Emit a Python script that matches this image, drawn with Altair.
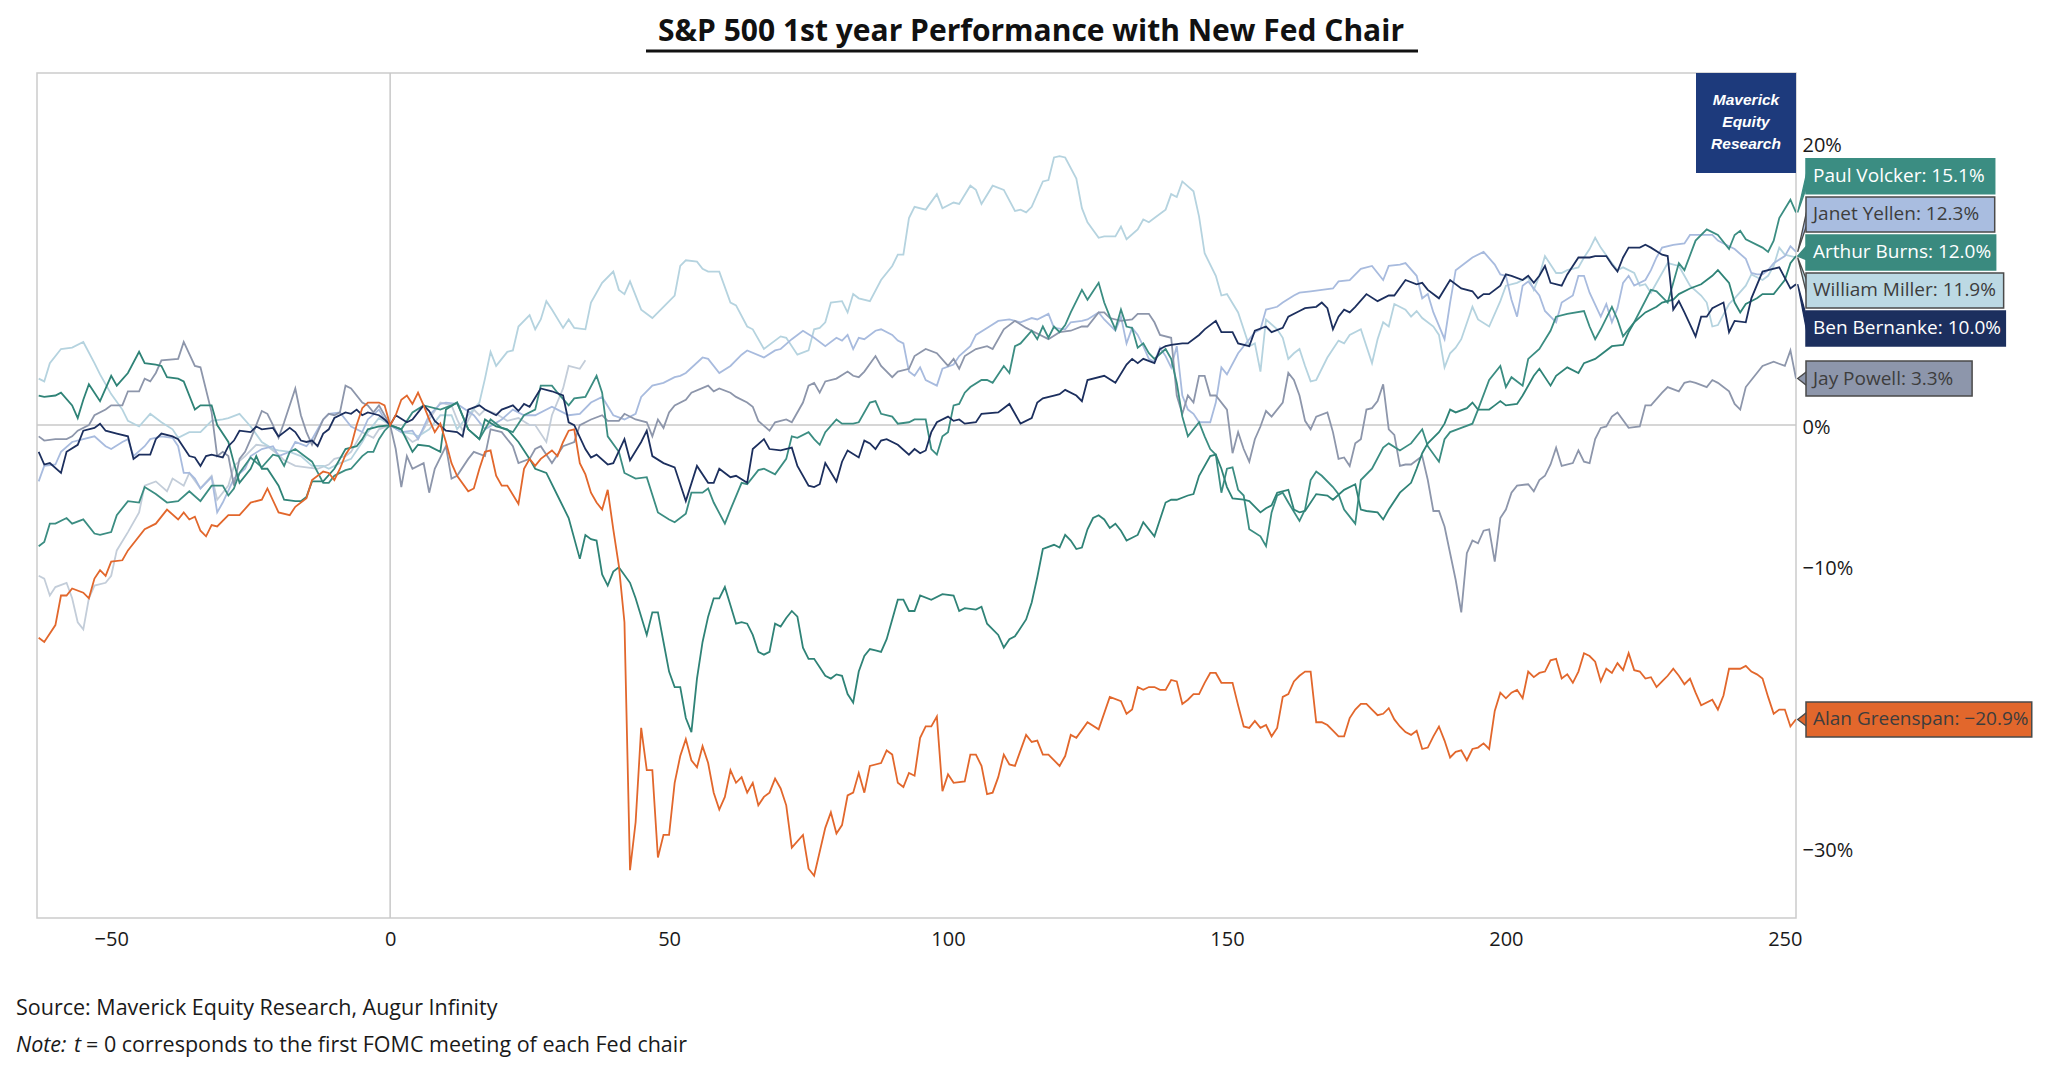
import altair as alt
import pandas as pd

# ---- values: (trading day vs first FOMC, % change) ----
volcker = [(-63, -8.6), (-62, -8.3), (-61, -7.0), (-60, -7.0), (-58, -6.6), (-57, -7.0), (-55, -6.7), (-53, -7.7),
           (-52, -7.8), (-50, -7.6), (-49, -6.4), (-47, -5.4), (-45, -5.5), (-44, -4.4), (-42, -4.9), (-40, -5.5),
           (-38, -5.4), (-36, -4.7), (-34, -5.4), (-32, -4.3), (-30, -4.3), (-29, -5.0), (-28, -4.5), (-27, -3.4),
           (-25, -2.3), (-23, -3.0), (-21, -2.1), (-20, -2.2), (-19, -2.9), (-18, -1.9), (-17, -1.7), (-15, -2.3),
           (-14, -2.6), (-12, -4.1), (-11, -4.1), (-10, -3.6), (-8, -3.2), (-7, -3.1), (-5, -2.2), (-4, -1.9),
           (-3, -1.9), (-2, -1.0), (-1, -0.4), (0, 0.0), (2, -0.3), (4, 0.9), (6, 1.4), (9, 1.1), (11, 1.4),
           (12, 1.6), (14, -0.3), (16, -1.0), (18, 0.4), (20, -0.2), (22, -0.5), (24, 0.7), (26, 1.1), (27, 2.8),
           (29, 2.8), (30, 2.3), (32, 1.4), (33, 1.9), (35, 2.0), (37, 3.5), (38, 2.3), (39, -0.8), (41, -1.9),
           (42, -3.4), (44, -3.8), (46, -3.7), (48, -6.2), (50, -6.7), (51, -6.9), (53, -6.3), (54, -4.8),
           (56, -4.8), (57, -4.5), (58, -5.5), (60, -7.0), (61, -6.0), (63, -4.1), (64, -4.2), (66, -3.2),
           (67, -3.1), (69, -3.5), (71, -2.4), (72, -0.8), (73, -0.9), (75, -0.5), (76, -1.0), (77, -1.4),
           (78, -0.5), (80, 0.4), (81, 0.1), (83, 0.1), (84, 0.2), (86, 1.6), (87, 1.7), (88, 0.8), (90, 0.6),
           (91, 0.1), (93, 0.2), (94, 0.4), (96, 0.4), (97, -1.7), (98, -2.1), (99, -0.8), (100, -0.5), (101, 1.4),
           (102, 1.5), (103, 2.3), (104, 2.7), (106, 3.2), (107, 3.2), (108, 3.0), (110, 4.2), (111, 3.7),
           (112, 5.6), (113, 5.8), (115, 6.7), (116, 6.1), (117, 7.0), (118, 6.2), (119, 7.0), (120, 6.6),
           (121, 7.1), (122, 8.0), (124, 9.6), (125, 8.9), (127, 10.1), (128, 8.7), (129, 7.7), (130, 6.8),
           (131, 8.2), (132, 7.0), (133, 6.9), (134, 5.5), (135, 5.8), (136, 5.1), (137, 4.7), (139, 5.4),
           (140, 4.7), (141, 3.0), (142, 0.6), (143, -0.8), (145, 0.2), (146, -0.8), (147, -1.7), (148, -2.1),
           (149, -4.8), (150, -3.1), (151, -3.0), (152, -4.6), (153, -5.0), (154, -7.4), (156, -7.9), (157, -8.6),
           (158, -6.2), (159, -5.0), (160, -4.8), (161, -5.5), (163, -6.8), (164, -6.0), (165, -3.9), (166, -3.3),
           (167, -3.6), (169, -4.4), (170, -4.9), (171, -6.0), (172, -6.5), (173, -7.0), (174, -3.9), (176, -3.1),
           (178, -1.6), (179, -1.3), (181, -1.8), (183, -1.3), (185, -0.3), (186, -1.5), (188, -2.6), (189, -1.0),
           (190, -0.5), (192, -0.2), (194, 0.1), (195, 1.1), (197, 3.2), (199, 4.2), (200, 2.7), (201, 3.4),
           (203, 2.8), (204, 4.7), (206, 5.4), (208, 6.7), (209, 7.7), (211, 7.9), (214, 8.1), (215, 7.0),
           (216, 6.1), (217, 6.8), (219, 8.4), (220, 7.5), (221, 6.3), (223, 7.3), (226, 9.6), (227, 9.5),
           (229, 8.7), (231, 11.5), (232, 11.0), (234, 13.1), (236, 13.9), (238, 13.5), (240, 12.5), (241, 13.5),
           (242, 13.8), (243, 13.2), (246, 12.6), (247, 12.3), (248, 13.1), (249, 14.7), (251, 16.0), (252, 15.1)]

yellen = [(-63, -4.0), (-62, -2.9), (-60, -2.8), (-59, -1.9), (-57, -1.2), (-55, -1.0), (-53, -0.8), (-51, -1.5),
          (-50, -1.7), (-48, -1.2), (-47, -1.0), (-46, -2.2), (-44, -1.5), (-43, -1.0), (-41, -0.8), (-39, -0.9),
          (-38, -1.5), (-37, -3.4), (-36, -3.4), (-35, -3.8), (-34, -4.5), (-32, -3.7), (-31, -6.2), (-30, -5.5),
          (-28, -3.8), (-26, -3.1), (-25, -2.2), (-23, -1.7), (-21, -1.5), (-20, -2.2), (-18, -1.9), (-17, -1.2),
          (-15, -1.5), (-14, -1.0), (-12, 0.4), (-11, 0.8), (-9, 0.9), (-7, -0.1), (-5, -0.5), (-4, 0.4),
          (-2, 1.1), (-1, 0.4), (0, 0.0), (2, -0.5), (4, -0.4), (5, -1.0), (7, 0.7), (9, 1.5), (10, 1.6),
          (12, 1.5), (15, 0.7), (17, -0.3), (20, 0.4), (22, 1.1), (24, 0.7), (26, 0.7), (29, 1.3), (30, 1.1),
          (32, 0.7), (34, 0.8), (36, 1.6), (38, 2.0), (40, 0.7), (42, 0.4), (44, 0.8), (45, 2.0), (47, 2.8),
          (49, 3.0), (51, 3.4), (52, 3.5), (53, 3.7), (56, 4.8), (57, 4.7), (59, 3.7), (61, 4.2), (63, 5.0),
          (64, 5.3), (67, 4.8), (69, 5.3), (70, 5.4), (72, 6.1), (74, 6.7), (76, 6.2), (78, 5.6), (80, 6.2),
          (81, 6.0), (82, 6.4), (83, 5.4), (84, 6.2), (85, 6.1), (87, 6.7), (88, 6.8), (90, 6.4), (91, 6.0),
          (92, 5.8), (93, 3.8), (94, 3.5), (95, 4.1), (96, 3.2), (98, 2.8), (99, 4.0), (101, 4.3), (102, 4.9),
          (104, 5.6), (105, 6.4), (107, 6.9), (109, 7.4), (111, 7.5), (113, 7.3), (115, 7.6), (116, 7.5),
          (118, 7.9), (119, 6.9), (121, 6.8), (122, 7.3), (124, 7.4), (125, 7.5), (127, 8.0), (128, 7.5),
          (130, 6.7), (131, 7.7), (132, 5.8), (133, 6.9), (134, 6.4), (135, 5.6), (136, 4.7), (137, 4.5),
          (138, 5.5), (139, 4.9), (140, 4.1), (141, 5.6), (142, 2.1), (143, 1.1), (144, 0.8), (145, 0.2),
          (147, 0.2), (148, 1.6), (149, 4.1), (150, 3.6), (152, 5.1), (153, 5.6), (155, 6.6), (156, 6.8),
          (157, 8.2), (159, 8.4), (160, 8.7), (162, 9.2), (163, 9.4), (165, 9.5), (167, 9.6), (169, 9.7),
          (170, 10.2), (172, 10.3), (174, 11.1), (176, 11.3), (178, 10.3), (179, 11.3), (181, 11.4), (182, 11.5),
          (184, 10.6), (185, 9.0), (186, 9.3), (187, 8.0), (189, 6.1), (190, 8.7), (191, 11.0), (193, 11.6),
          (194, 11.9), (196, 12.3), (198, 11.4), (199, 10.7), (200, 10.6), (201, 8.9), (202, 7.7), (203, 9.9),
          (204, 10.2), (206, 9.2), (207, 8.1), (209, 7.3), (210, 8.7), (212, 9.2), (213, 10.6), (214, 10.6),
          (215, 9.4), (217, 7.7), (218, 8.6), (219, 7.3), (220, 8.3), (221, 10.1), (222, 10.6), (223, 9.9),
          (225, 10.3), (226, 11.0), (227, 11.9), (228, 12.6), (230, 12.8), (232, 12.9), (233, 13.5), (235, 13.5),
          (237, 13.5), (238, 13.1), (240, 12.7), (241, 12.5), (243, 11.8), (244, 10.8), (245, 10.7), (246, 10.7),
          (247, 11.0), (248, 11.5), (250, 12.0), (251, 12.7), (252, 12.3)]

burns = [(-63, 2.1), (-62, 2.0), (-60, 2.1), (-59, 2.3), (-57, 1.4), (-56, 0.5), (-55, 1.8), (-54, 2.9), (-53, 2.3),
         (-52, 1.7), (-50, 3.5), (-49, 2.8), (-47, 3.7), (-45, 5.2), (-44, 4.4), (-42, 4.3), (-41, 4.2), (-40, 3.4),
         (-38, 3.3), (-37, 3.1), (-35, 1.1), (-34, 1.4), (-32, 1.4), (-31, 0.0), (-29, -1.2), (-28, -2.7),
         (-27, -4.1), (-25, -3.1), (-24, -2.2), (-23, -3.1), (-22, -3.1), (-20, -4.3), (-19, -5.3), (-17, -5.4),
         (-16, -5.4), (-15, -5.1), (-14, -4.0), (-12, -4.0), (-10, -3.1), (-8, -1.7), (-6, -1.5), (-5, -1.0),
         (-4, -0.3), (-2, -0.1), (0, 0.0), (2, -0.3), (4, -1.9), (5, -1.4), (7, -1.5), (9, -1.9), (10, 1.1),
         (12, 1.6), (14, -0.3), (16, -1.0), (17, 0.4), (19, -0.1), (21, -0.3), (23, -1.2), (25, -2.4), (26, -3.1),
         (28, -3.4), (30, -5.0), (32, -6.6), (34, -9.5), (35, -7.8), (36, -8.1), (37, -8.2), (38, -10.6),
         (39, -11.4), (40, -10.4), (41, -10.1), (43, -11.2), (44, -12.3), (46, -14.9), (47, -13.3), (48, -13.3),
         (49, -15.4), (50, -17.5), (51, -18.6), (52, -18.6), (53, -20.8), (54, -21.8), (55, -18.0), (56, -15.4),
         (57, -13.6), (58, -12.3), (59, -12.3), (60, -11.5), (61, -12.8), (62, -14.1), (63, -14.0), (64, -14.1),
         (65, -14.9), (66, -16.1), (67, -16.3), (68, -16.1), (69, -14.1), (70, -14.3), (71, -13.7), (72, -13.2),
         (73, -13.6), (74, -15.8), (75, -16.6), (76, -16.6), (77, -17.2), (78, -17.8), (79, -18.0), (80, -17.7),
         (81, -17.8), (82, -19.1), (83, -19.7), (84, -17.5), (85, -16.4), (86, -15.9), (87, -16.0), (88, -16.1),
         (89, -15.2), (90, -13.8), (91, -12.4), (92, -12.4), (93, -13.2), (94, -13.2), (95, -12.1), (97, -12.4),
         (99, -12.0), (101, -12.1), (102, -13.2), (103, -13.0), (105, -13.1), (106, -12.9), (107, -14.1),
         (109, -14.9), (110, -15.8), (111, -15.2), (112, -15.0), (114, -13.8), (115, -12.6), (116, -10.8),
         (117, -8.8), (119, -8.5), (120, -8.7), (121, -7.8), (122, -8.2), (123, -8.8), (124, -8.7), (125, -7.4),
         (126, -6.6), (127, -6.4), (128, -6.7), (129, -7.3), (130, -7.0), (131, -7.5), (132, -8.2), (134, -7.8),
         (135, -6.9), (137, -7.9), (139, -5.5), (140, -5.3), (141, -5.3), (143, -5.0), (144, -4.9), (145, -3.6),
         (147, -2.2), (148, -2.1), (149, -3.1), (150, -4.4), (151, -5.2), (153, -5.3), (154, -5.4), (156, -6.2),
         (157, -5.9), (158, -5.7), (159, -4.8), (161, -4.6), (162, -6.0), (163, -6.2), (164, -6.1), (166, -4.9),
         (168, -5.0), (169, -5.3), (171, -4.6), (173, -4.2), (174, -6.0), (175, -6.1), (177, -6.2), (178, -6.7),
         (179, -6.0), (181, -4.8), (183, -4.1), (184, -3.1), (185, -2.0), (186, -1.3), (188, -0.5), (189, 0.1),
         (190, 1.1), (191, 0.9), (193, 1.2), (194, 1.6), (195, 1.1), (197, 1.1), (198, 1.4), (199, 1.7),
         (200, 1.4), (202, 1.5), (203, 2.1), (205, 3.5), (206, 4.0), (208, 2.8), (209, 3.5), (211, 4.1),
         (213, 3.7), (214, 4.4), (216, 4.7), (217, 5.0), (219, 5.6), (221, 5.7), (222, 6.6), (223, 7.3),
         (225, 8.0), (227, 8.4), (228, 8.7), (230, 8.9), (231, 9.3), (233, 9.7), (235, 10.0), (237, 10.6),
         (238, 11.0), (240, 10.1), (241, 8.7), (242, 8.0), (243, 8.6), (245, 9.0), (246, 9.3), (248, 9.3),
         (250, 10.3), (251, 11.5), (252, 12.0)]

miller = [(-63, 3.3), (-62, 3.1), (-61, 4.4), (-59, 5.4), (-57, 5.5), (-55, 5.9), (-53, 4.4), (-52, 3.6), (-50, 2.2),
          (-48, 1.1), (-47, 0.3), (-45, -0.1), (-43, 0.8), (-41, 0.2), (-39, -0.3), (-38, -0.9), (-36, -0.5),
          (-34, -0.5), (-32, 0.3), (-30, 0.4), (-29, 0.5), (-27, 0.8), (-25, -0.1), (-23, -1.2), (-21, -1.7),
          (-20, -1.8), (-18, -1.9), (-16, -2.2), (-14, -2.9), (-12, -2.9), (-11, -3.1), (-9, -2.7), (-7, -2.4),
          (-5, -1.2), (-4, -0.5), (-2, 0.5), (0, 0.0), (2, -0.5), (4, -0.6), (5, -0.8), (7, -0.3), (9, 0.7),
          (11, 0.7), (12, -0.3), (14, 0.7), (16, 1.6), (17, 3.3), (18, 5.2), (19, 4.2), (21, 5.2), (22, 5.3),
          (23, 7.0), (25, 7.8), (26, 6.8), (27, 7.5), (28, 8.8), (29, 8.2), (31, 6.9), (32, 7.5), (33, 6.9),
          (35, 6.8), (36, 8.7), (38, 10.1), (40, 10.9), (41, 9.6), (42, 9.3), (43, 10.2), (45, 8.2), (47, 7.6),
          (49, 8.4), (51, 9.2), (52, 11.3), (53, 11.7), (55, 11.6), (56, 11.1), (57, 10.9), (59, 10.9), (61, 8.7),
          (62, 8.5), (64, 7.0), (65, 6.8), (67, 5.4), (70, 6.3), (71, 6.2), (73, 5.0), (75, 5.3), (76, 6.8),
          (77, 6.9), (78, 7.3), (79, 8.7), (81, 8.8), (82, 8.0), (83, 9.3), (84, 9.0), (86, 8.8), (88, 10.3),
          (90, 11.3), (91, 12.1), (92, 12.1), (93, 14.7), (94, 15.5), (96, 15.3), (98, 16.4), (99, 15.4),
          (101, 15.8), (102, 15.7), (104, 17.0), (105, 16.7), (106, 15.7), (108, 17.0), (110, 16.7), (112, 15.2),
          (113, 15.3), (114, 15.1), (115, 15.5), (117, 17.3), (118, 17.4), (119, 19.0), (120, 19.1), (121, 19.0),
          (123, 17.5), (124, 15.4), (125, 14.4), (127, 13.3), (128, 13.4), (130, 13.4), (131, 14.1), (132, 13.2),
          (134, 13.9), (135, 14.6), (136, 14.4), (137, 14.7), (139, 15.3), (140, 16.4), (141, 16.2), (142, 17.3),
          (144, 16.6), (145, 14.8), (146, 12.2), (148, 10.6), (149, 9.2), (150, 9.3), (152, 8.0), (153, 6.8),
          (154, 5.6), (155, 5.8), (156, 3.8), (157, 7.5), (159, 6.8), (160, 6.2), (161, 4.7), (162, 5.1),
          (163, 5.4), (164, 4.2), (165, 3.1), (166, 3.2), (168, 4.8), (170, 6.0), (171, 5.8), (172, 6.4),
          (174, 6.8), (175, 5.6), (176, 4.4), (177, 6.1), (178, 7.3), (179, 7.0), (180, 8.6), (182, 8.2),
          (183, 7.7), (184, 8.1), (185, 7.6), (187, 7.0), (188, 6.4), (189, 4.1), (190, 5.1), (191, 5.5),
          (192, 6.1), (194, 8.4), (195, 7.5), (197, 7.0), (199, 8.8), (200, 9.9), (202, 10.1), (204, 10.5),
          (205, 9.6), (206, 10.6), (207, 12.0), (209, 10.8), (210, 10.8), (211, 11.0), (213, 11.2), (214, 11.9),
          (215, 12.5), (216, 13.3), (217, 12.6), (219, 11.5), (220, 11.0), (221, 11.2), (223, 10.8), (224, 9.9),
          (225, 10.0), (226, 9.4), (228, 10.8), (229, 11.5), (231, 11.3), (232, 10.6), (233, 9.9), (235, 9.2),
          (236, 8.7), (237, 7.0), (238, 7.1), (240, 8.6), (241, 9.0), (243, 9.9), (244, 10.7), (246, 10.3),
          (247, 10.6), (248, 11.3), (249, 12.6), (250, 12.1), (252, 11.9)]

bernanke = [(-63, -1.9), (-62, -2.8), (-61, -2.7), (-59, -3.4), (-58, -1.9), (-56, -1.4), (-55, -0.4), (-53, -0.2),
            (-52, 0.1), (-51, -0.4), (-49, -0.6), (-47, -0.8), (-46, -2.4), (-45, -2.1), (-43, -2.1), (-42, -1.0),
            (-41, -0.6), (-39, -0.8), (-38, -1.0), (-36, -2.2), (-35, -2.3), (-34, -2.9), (-33, -2.2), (-32, -2.1),
            (-30, -2.3), (-29, -1.5), (-28, -1.1), (-27, -0.4), (-25, -0.5), (-24, -0.1), (-23, -0.3), (-21, -0.2),
            (-20, -0.8), (-18, -0.2), (-17, -0.5), (-16, -1.1), (-15, -1.2), (-14, -1.1), (-13, -1.5), (-12, -0.6),
            (-11, -0.3), (-10, 0.5), (-8, 0.9), (-7, 0.8), (-6, 1.1), (-5, 0.7), (-4, 0.9), (-2, 0.7), (-1, 0.4),
            (0, 0.0), (1, 0.7), (3, 0.2), (4, 0.4), (6, 1.4), (7, 1.0), (8, 0.3), (10, -0.4), (12, -0.5),
            (13, -0.8), (14, 1.1), (16, 1.4), (17, 1.1), (19, 0.7), (20, 1.1), (22, 1.4), (23, 1.0), (24, 1.5),
            (25, 1.3), (27, 2.6), (29, 2.4), (31, 2.1), (32, 0.2), (33, 0.0), (35, -1.7), (36, -2.3), (37, -2.1),
            (39, -2.8), (40, -2.7), (42, -1.0), (43, -2.5), (45, -1.2), (46, -0.4), (47, -2.2), (49, -2.7),
            (51, -3.0), (53, -5.4), (55, -2.9), (57, -4.1), (58, -4.1), (59, -3.1), (61, -3.7), (62, -3.6),
            (64, -4.1), (65, -1.7), (67, -1.0), (68, -1.7), (70, -1.8), (72, -1.6), (73, -2.9), (75, -4.3),
            (76, -4.4), (77, -4.2), (78, -2.7), (80, -4.0), (81, -2.6), (82, -1.8), (84, -2.3), (85, -1.1),
            (86, -1.3), (87, -1.7), (88, -1.1), (89, -1.0), (91, -1.4), (93, -2.1), (94, -1.7), (95, -2.0),
            (96, -1.8), (97, -0.5), (98, 0.2), (100, 0.6), (101, 0.3), (102, 0.4), (103, 0.1), (105, 0.2),
            (106, 0.8), (109, 0.9), (111, 1.5), (112, 0.8), (113, 0.1), (115, 0.5), (116, 1.6), (117, 1.9),
            (119, 2.1), (120, 2.2), (121, 2.5), (123, 2.1), (124, 1.7), (125, 3.2), (128, 3.5), (130, 3.0),
            (132, 4.3), (133, 4.7), (134, 4.4), (135, 4.7), (137, 4.4), (138, 5.4), (139, 5.6), (140, 5.7),
            (142, 5.8), (143, 5.8), (145, 6.4), (146, 6.8), (148, 7.4), (149, 6.6), (151, 6.6), (152, 5.8),
            (154, 5.6), (155, 6.7), (157, 7.0), (158, 6.6), (160, 6.9), (161, 7.7), (163, 8.1), (164, 8.3),
            (166, 8.4), (167, 8.7), (168, 8.3), (169, 6.8), (170, 7.7), (171, 8.2), (172, 8.0), (173, 8.4),
            (175, 9.3), (177, 8.8), (179, 9.2), (180, 9.2), (182, 10.3), (184, 10.0), (185, 10.1), (186, 9.6),
            (188, 9.0), (190, 10.3), (192, 9.7), (194, 9.5), (195, 9.0), (196, 9.3), (197, 9.3), (199, 9.9),
            (200, 10.7), (201, 10.6), (203, 10.3), (204, 10.6), (205, 10.1), (206, 10.6), (207, 11.3), (208, 10.1),
            (210, 9.9), (211, 10.7), (213, 11.9), (215, 11.9), (216, 12.0), (218, 12.0), (219, 11.4), (220, 10.9),
            (221, 11.9), (222, 12.6), (224, 12.6), (225, 12.8), (226, 12.6), (228, 12.1), (229, 12.0), (230, 8.2),
            (231, 8.8), (232, 8.0), (234, 6.3), (235, 7.7), (236, 7.7), (237, 8.3), (239, 8.7), (240, 6.6),
            (241, 7.4), (243, 7.3), (244, 9.0), (246, 10.9), (247, 11.0), (249, 11.2), (251, 9.7), (252, 10.0)]

powell = [(-63, -0.8), (-62, -1.1), (-60, -1.0), (-58, -1.0), (-57, -0.8), (-56, -0.4), (-54, 0.0), (-53, 0.7),
          (-51, 1.1), (-50, 1.4), (-48, 1.4), (-47, 2.4), (-45, 2.4), (-44, 3.3), (-43, 3.1), (-42, 3.7), (-41, 4.6),
          (-38, 4.7), (-37, 5.9), (-35, 4.2), (-34, 4.1), (-32, 0.9), (-31, -2.2), (-30, -1.9), (-29, -2.2),
          (-28, -4.3), (-27, -2.4), (-26, -1.9), (-25, -1.0), (-23, 1.0), (-22, 0.8), (-21, 0.0), (-20, -0.9),
          (-19, 0.2), (-17, 2.6), (-16, 0.7), (-15, -0.5), (-14, -1.4), (-12, 0.4), (-11, 0.8), (-10, 0.7),
          (-9, 0.9), (-8, 2.8), (-7, 2.6), (-5, 1.6), (-4, 1.4), (-3, 0.9), (-2, 1.4), (-1, 0.7), (0, 0.0),
          (1, -1.7), (2, -4.4), (3, -2.2), (4, -3.1), (6, -2.7), (7, -4.8), (8, -3.1), (10, -1.5), (11, -3.8),
          (12, -3.6), (14, -2.4), (15, -1.9), (17, -2.2), (18, -0.3), (20, -0.5), (22, -1.5), (23, -2.7),
          (25, -2.4), (26, -1.7), (27, -1.5), (29, -2.7), (31, -1.5), (33, -1.2), (34, 0.0), (36, 0.4), (38, 0.7),
          (39, 0.3), (41, 0.3), (42, 0.8), (44, 0.4), (46, 0.2), (47, -0.8), (48, 0.4), (49, -0.2), (50, 0.9),
          (51, 1.4), (53, 1.8), (54, 2.3), (57, 2.8), (58, 2.4), (59, 2.6), (61, 2.3), (62, 2.0), (64, 1.6),
          (65, 1.3), (66, 0.3), (68, -0.4), (69, 0.2), (71, 0.4), (72, 0.2), (74, 1.6), (75, 2.8), (76, 3.0),
          (77, 2.3), (78, 3.1), (80, 3.3), (82, 3.8), (83, 3.5), (84, 3.4), (85, 3.8), (87, 4.9), (88, 4.2),
          (90, 3.4), (91, 3.8), (93, 4.0), (94, 4.9), (96, 5.4), (98, 5.1), (100, 4.2), (101, 4.7), (102, 4.0),
          (103, 4.9), (105, 5.4), (107, 5.6), (108, 5.4), (110, 6.8), (112, 7.4), (114, 6.9), (115, 6.7),
          (118, 6.1), (120, 6.6), (122, 6.7), (124, 7.0), (125, 7.0), (127, 8.0), (128, 8.0), (129, 7.6),
          (131, 7.4), (133, 7.5), (134, 7.9), (136, 7.9), (137, 7.3), (138, 6.4), (140, 6.2), (141, 2.1),
          (142, 0.8), (143, 2.1), (144, 1.6), (145, 3.5), (146, 3.5), (147, 2.1), (148, 2.1), (150, 1.1),
          (151, -2.0), (152, -0.5), (153, -1.7), (154, -2.6), (155, -1.0), (156, -0.1), (157, 1.0), (158, 0.6),
          (160, 1.6), (161, 3.7), (162, 3.2), (163, 2.1), (164, 0.3), (165, -0.3), (166, 0.6), (168, 0.9),
          (169, -0.5), (170, -2.4), (171, -2.3), (172, -2.9), (173, -1.3), (174, -1.0), (175, 1.1), (176, 1.2),
          (177, 1.7), (178, 2.9), (179, -0.3), (180, -0.7), (181, -2.9), (182, -2.8), (183, -2.8), (185, -2.2),
          (186, -3.9), (187, -6.1), (188, -6.1), (189, -7.2), (190, -9.1), (191, -11.0), (192, -13.3), (193, -9.1),
          (194, -8.2), (195, -8.4), (196, -7.5), (197, -7.4), (198, -9.7), (199, -6.6), (200, -6.0), (201, -4.8),
          (202, -4.3), (204, -4.2), (205, -4.7), (206, -3.9), (207, -3.6), (208, -2.8), (209, -1.6), (210, -2.9),
          (212, -2.7), (213, -1.8), (214, -2.6), (215, -2.7), (216, -1.0), (217, -0.2), (218, -0.1), (219, 0.6),
          (220, 0.9), (222, -0.2), (224, -0.1), (225, 1.4), (226, 1.4), (228, 2.3), (229, 2.7), (231, 2.4),
          (232, 3.0), (233, 3.1), (234, 3.0), (236, 2.7), (237, 3.2), (238, 3.0), (240, 2.4), (241, 1.5),
          (242, 1.1), (243, 2.7), (244, 3.2), (245, 3.7), (246, 4.2), (248, 4.5), (250, 4.2), (251, 5.3),
          (252, 3.3)]

greenspan = [(-63, -15.1), (-62, -15.4), (-60, -14.2), (-59, -12.1), (-58, -12.1), (-57, -11.6), (-55, -11.9),
             (-54, -12.3), (-53, -10.9), (-52, -10.3), (-51, -10.7), (-50, -9.7), (-48, -9.6), (-47, -8.9),
             (-44, -7.4), (-42, -7.0), (-40, -6.0), (-38, -6.7), (-37, -6.2), (-36, -6.7), (-35, -6.5), (-34, -7.5),
             (-33, -7.9), (-32, -7.1), (-31, -7.2), (-29, -6.4), (-27, -6.4), (-25, -5.5), (-23, -5.3), (-22, -4.5),
             (-20, -6.2), (-18, -6.4), (-17, -5.8), (-15, -5.2), (-14, -3.9), (-12, -3.3), (-11, -3.4), (-10, -3.9),
             (-9, -3.1), (-8, -2.1), (-7, -1.5), (-6, 0.0), (-5, 1.2), (-4, 1.6), (-2, 1.6), (-1, 1.4), (0, 0.0),
             (1, 0.7), (2, 1.8), (3, 2.1), (4, 1.5), (5, 2.3), (6, 1.4), (7, 0.4), (8, -0.5), (9, 0.1), (10, -1.2),
             (11, -2.7), (12, -3.6), (14, -4.7), (15, -4.5), (16, -3.1), (17, -1.9), (18, -1.8), (19, -3.6),
             (20, -4.3), (21, -4.3), (23, -5.6), (24, -3.1), (25, -2.4), (26, -2.9), (27, -2.4), (29, -1.8),
             (30, -2.2), (31, -1.2), (32, -0.4), (33, -0.3), (34, -2.7), (35, -3.5), (36, -4.8), (37, -5.5),
             (38, -6.0), (39, -4.6), (40, -7.4), (41, -10.0), (42, -14.0), (43, -31.6), (44, -28.2), (45, -21.5),
             (46, -24.5), (47, -24.5), (48, -30.7), (49, -29.1), (50, -29.1), (51, -25.4), (52, -23.5), (53, -22.3),
             (54, -23.8), (55, -24.3), (56, -22.8), (57, -24.0), (58, -26.1), (59, -27.3), (60, -26.4), (61, -24.5),
             (62, -25.4), (63, -25.0), (64, -26.1), (65, -25.4), (66, -27.0), (67, -26.4), (68, -26.1), (69, -25.1),
             (70, -25.8), (71, -27.0), (72, -30.0), (74, -29.1), (75, -31.5), (76, -32.0), (78, -28.6), (79, -27.5),
             (80, -29.0), (81, -28.4), (82, -26.3), (83, -26.1), (84, -24.7), (85, -26.1), (86, -24.2), (88, -24.0),
             (89, -23.1), (90, -23.4), (91, -25.4), (92, -25.7), (93, -24.7), (94, -24.9), (95, -22.2), (96, -21.4),
             (97, -21.4), (98, -20.7), (99, -26.0), (100, -24.8), (101, -25.4), (103, -25.3), (104, -23.4),
             (105, -23.4), (106, -24.2), (107, -26.2), (108, -26.1), (109, -25.0), (110, -23.4), (111, -24.1),
             (112, -24.2), (114, -22.0), (115, -22.5), (116, -22.4), (117, -23.4), (118, -23.4), (120, -24.2),
             (121, -23.5), (122, -22.0), (123, -22.2), (125, -21.1), (127, -21.6), (129, -19.3), (131, -19.6),
             (132, -20.5), (133, -20.2), (134, -18.6), (135, -18.8), (136, -18.6), (137, -18.6), (138, -18.8),
             (139, -18.8), (140, -18.1), (141, -18.2), (142, -19.8), (143, -19.5), (144, -19.1), (145, -19.1),
             (146, -18.3), (147, -17.6), (148, -17.6), (149, -18.3), (151, -18.3), (152, -19.9), (153, -21.4),
             (154, -21.5), (155, -21.0), (156, -21.5), (157, -21.3), (158, -22.1), (159, -21.5), (160, -19.3),
             (161, -19.1), (162, -18.2), (163, -17.8), (164, -17.5), (165, -17.5), (166, -21.1), (167, -21.1),
             (168, -21.3), (169, -21.7), (170, -22.1), (171, -22.1), (172, -20.8), (173, -20.2), (174, -19.8),
             (175, -19.8), (176, -20.2), (177, -20.6), (178, -20.5), (179, -20.1), (180, -20.9), (181, -21.4),
             (182, -21.8), (183, -22.0), (184, -21.7), (185, -23.0), (186, -22.9), (187, -22.1), (188, -21.4),
             (189, -22.4), (190, -23.6), (191, -23.2), (192, -23.1), (193, -23.8), (194, -23.0), (195, -22.9),
             (196, -22.6), (197, -23.0), (198, -20.3), (199, -19.0), (200, -19.4), (201, -19.0), (202, -18.8),
             (203, -19.4), (204, -17.5), (205, -17.9), (206, -17.6), (207, -17.5), (208, -16.7), (209, -16.6),
             (210, -18.0), (211, -17.7), (212, -18.3), (213, -17.5), (214, -16.2), (215, -16.4), (216, -16.8),
             (217, -18.2), (218, -17.3), (219, -17.6), (220, -16.9), (221, -17.4), (222, -16.2), (223, -17.4),
             (224, -17.5), (225, -18.0), (226, -17.9), (227, -18.6), (228, -18.2), (229, -17.8), (230, -17.3),
             (231, -17.8), (232, -18.4), (233, -18.0), (234, -19.0), (235, -19.9), (237, -19.5), (238, -20.2),
             (239, -19.2), (240, -17.3), (241, -17.3), (242, -17.3), (243, -17.1), (244, -17.5), (245, -17.7),
             (246, -18.0), (247, -19.3), (248, -20.5), (249, -20.2), (250, -20.2), (251, -21.4), (252, -20.9)]

# the current chair, still in progress (no end label)
new_chair = [(-63, -10.7), (-62, -10.9), (-61, -12.1), (-60, -11.5), (-58, -11.2), (-57, -12.3), (-56, -14.0),
             (-55, -14.5), (-54, -12.3), (-53, -11.4), (-51, -11.2), (-50, -10.7), (-49, -8.9), (-47, -7.6),
             (-45, -6.2), (-44, -4.3), (-42, -4.0), (-40, -4.7), (-39, -3.8), (-37, -4.3), (-36, -3.4), (-34, -4.5),
             (-32, -3.6), (-31, -5.3), (-29, -4.3), (-28, -2.9), (-26, -2.2), (-24, -1.4), (-22, -1.5), (-20, -2.1),
             (-19, -2.5), (-17, -2.9), (-15, -3.0), (-13, -3.1), (-11, -2.8), (-10, -2.4), (-8, -2.2), (-7, -1.9),
             (-5, -0.5), (-3, -0.9), (-2, -0.3), (0, 0.0), (2, -0.5), (4, -1.2), (5, -1.0), (7, 0.4), (9, 1.6),
             (11, 1.4), (12, 0.4), (13, -0.4), (15, 1.1), (16, 0.7), (17, 1.1), (19, 0.8), (21, 0.3), (23, 0.5),
             (25, 0.0), (26, 0.0), (28, -1.2), (29, 0.7), (31, 2.6), (32, 4.2), (34, 4.0), (35, 4.6)]

chairs = ["Paul Volcker", "Janet Yellen", "Arthur Burns", "William Miller", "Ben Bernanke", "Jay Powell",
          "Alan Greenspan"]
chair_series = [volcker, yellen, burns, miller, bernanke, powell, greenspan]
line_colors = ["#3b8d82", "#a8bbde", "#2f8377", "#b5d3df", "#1c2f5e", "#8d96ab", "#e2672c"]
box_fills = ["#3b8d82", "#a9bde0", "#3a8a7f", "#bcd9e4", "#1c2f5e", "#8d96ab", "#e2672c"]
box_borders = ["#3b8d82", "#4a4a4a", "#3a8a7f", "#4a4a4a", "#1c2f5e", "#4a4a4a", "#4a4a4a"]
label_text_colors = ["#ffffff", "#3d3d3d", "#ffffff", "#3d3d3d", "#ffffff", "#3d3d3d", "#3d3d3d"]
new_chair_color = "#c3cdd9"

x_ticks = [-50, 0, 50, 100, 150, 200, 250]
y_ticks = [20, 0, -10, -30]
logo_lines = ["Maverick", "Equity", "Research"]

W, H = 1759, 845
X_DOM = [-63.3, 252]
Y_DOM = [-35, 25]
px_per_day = W / (X_DOM[1] - X_DOM[0])
px_per_pct = H / (Y_DOM[1] - Y_DOM[0])

# ---- long table for the lines (light lines first so dark ones sit on top) ----
stack = ["new", "William Miller", "Janet Yellen", "Jay Powell", "Paul Volcker", "Arthur Burns",
         "Ben Bernanke", "Alan Greenspan"]
all_series = dict(zip(chairs, zip(chair_series, line_colors)))
all_series["new"] = (new_chair, new_chair_color)
rows = []
for name in stack:
    pts, col = all_series[name]
    for d, v in pts:
        rows.append({"name": name, "day": d, "pct": v, "col": col})
lines_df = pd.DataFrame(rows)

# ---- end labels: spread overlapping labels around their cluster centre ----
ends = [s[-1][1] for s in chair_series]
gap = 2.7
clusters = [[i] for i in sorted(range(len(chairs)), key=lambda i: -ends[i])]


def spread(cl):
    c = sum(ends[i] for i in cl) / len(cl)
    return [c + gap * ((len(cl) - 1) / 2 - k) for k in range(len(cl))]


merged = True
while merged:
    merged = False
    for j in range(len(clusters) - 1):
        if spread(clusters[j])[-1] - spread(clusters[j + 1])[0] < gap:
            clusters[j] = clusters[j] + clusters[j + 1]
            del clusters[j + 1]
            merged = True
            break
label_y = {}
for cl in clusters:
    for i, p in zip(cl, spread(cl)):
        label_y[i] = p


def text_width(s, size):
    w = 0.0
    for ch in s:
        if ch in "il.:,;' ":
            w += 0.27
        elif ch in "fjrt":
            w += 0.38
        elif ch in "mwMW":
            w += 0.86
        elif ch == "%":
            w += 0.82
        elif ch.isdigit() or ch == "\u2212":
            w += 0.57
        elif ch.isupper():
            w += 0.63
        else:
            w += 0.55
    return w * size


box_left = X_DOM[1] + 10 / px_per_day
tip_x = X_DOM[1] + 0.3
half_h = 17.5 / px_per_pct
lab_rows, wedge_rows = [], []
for i, name in enumerate(chairs):
    txt = "%s: %.1f%%" % (name, ends[i])
    txt = txt.replace("-", "\u2212")
    w = text_width(txt, 19) + 16
    ly = label_y[i]
    lab_rows.append({"name": name, "text": txt, "x0": box_left, "x1": box_left + w / px_per_day,
                     "y0": ly - half_h, "y1": ly + half_h, "ly": ly, "fill": box_fills[i],
                     "border": box_borders[i], "tcol": label_text_colors[i]})
    wedge_rows.append({"name": name, "x": tip_x, "lo": ends[i], "hi": ends[i], "fill": box_fills[i],
                       "border": box_borders[i]})
    wedge_rows.append({"name": name, "x": box_left + 0.3, "lo": ly - 0.55, "hi": ly + 0.55,
                       "fill": box_fills[i], "border": box_borders[i]})
labels_df = pd.DataFrame(lab_rows)
wedge_df = pd.DataFrame(wedge_rows)

xs = alt.Scale(domain=X_DOM, nice=False, zero=False)
ys = alt.Scale(domain=Y_DOM, nice=False, zero=False)
FONT = "Open Sans"

x_axis = alt.Axis(values=x_ticks, title=None, grid=False, ticks=False, domain=False, labelFont=FONT,
                  labelFontSize=20, labelColor="#1a1a1a", labelPadding=11,
                  labelExpr="datum.value < 0 ? '\u2212' + abs(datum.value) : '' + datum.value")
y_axis = alt.Axis(values=y_ticks, orient="right", title=None, grid=False, ticks=False, domain=False,
                  labelFont=FONT, labelFontSize=20, labelColor="#1a1a1a", labelPadding=6, labelOffset=2.5,
                  labelExpr="(datum.value < 0 ? '\u2212' + abs(datum.value) : '' + datum.value) + '%'")


def X(field):
    return alt.X(field, scale=xs, axis=x_axis)


def Y(field):
    return alt.Y(field, scale=ys, axis=y_axis)


zero_h = alt.Chart(pd.DataFrame({"v": [0]})).mark_rule(color="#c8c8c8", strokeWidth=1.5).encode(y=Y("v:Q"))
zero_v = alt.Chart(pd.DataFrame({"v": [0]})).mark_rule(color="#c8c8c8", strokeWidth=1.5).encode(x=X("v:Q"))

lines = alt.Chart(lines_df).mark_line(strokeWidth=1.8, clip=True).encode(
    x=X("day:Q"),
    y=Y("pct:Q"),
    color=alt.Color("col:N", scale=None),
    detail="name:N",
    order=alt.Order("day:Q"),
)

wedges = alt.Chart(wedge_df).mark_area(strokeWidth=1.3).encode(
    x=X("x:Q"),
    y=Y("lo:Q"),
    y2="hi:Q",
    fill=alt.Fill("fill:N", scale=None),
    stroke=alt.Stroke("border:N", scale=None),
    detail="name:N",
)

boxes = alt.Chart(labels_df).mark_rect(strokeWidth=1.5).encode(
    x=X("x0:Q"), x2="x1:Q",
    y=Y("y0:Q"), y2="y1:Q",
    fill=alt.Fill("fill:N", scale=None),
    stroke=alt.Stroke("border:N", scale=None),
)

box_text = alt.Chart(labels_df).mark_text(align="left", baseline="middle", dx=7, font=FONT,
                                          fontSize=19).encode(
    x=X("x0:Q"),
    y=Y("ly:Q"),
    text="text:N",
    color=alt.Color("tcol:N", scale=None),
)

one = pd.DataFrame({"a": [0]})
logo_box = alt.Chart(one).mark_rect(color="#1d3a7c").encode(
    x=alt.value(W - 100), x2=alt.value(W), y=alt.value(0), y2=alt.value(100))
logo_layers = [
    alt.Chart(one).mark_text(text=t, font="Liberation Sans", fontSize=15.5, fontWeight="bold",
                             fontStyle="italic", color="white", align="center", baseline="middle").encode(
        x=alt.value(W - 50), y=alt.value(27 + 22 * k))
    for k, t in enumerate(logo_lines)
]

title = alt.Chart(one).mark_text(text="S&P 500 1st year Performance with New Fed Chair", font=FONT,
                                 fontSize=30, fontWeight="bold", color="#111111", align="center",
                                 baseline="middle").encode(x=alt.value(994), y=alt.value(-41))
underline = alt.Chart(one).mark_rule(color="#111111", strokeWidth=3).encode(
    x=alt.value(609), x2=alt.value(1381), y=alt.value(-22))

FOOT = 21.5
source = alt.Chart(one).mark_text(text="Source: Maverick Equity Research, Augur Infinity", font=FONT,
                                  fontSize=FOOT, color="#1a1a1a", align="left", baseline="middle").encode(
    x=alt.value(-21), y=alt.value(936))
note_a = alt.Chart(one).mark_text(text="Note:", font=FONT, fontSize=FOOT, fontStyle="italic", color="#1a1a1a",
                                  align="left", baseline="middle").encode(x=alt.value(-21), y=alt.value(973))
note_b = alt.Chart(one).mark_text(text="t", font=FONT, fontSize=FOOT, fontStyle="italic", color="#1a1a1a",
                                  align="left", baseline="middle").encode(x=alt.value(37), y=alt.value(973))
note_c = alt.Chart(one).mark_text(text="= 0 corresponds to the first FOMC meeting of each Fed chair", font=FONT,
                                  fontSize=FOOT, color="#1a1a1a", align="left", baseline="middle").encode(
    x=alt.value(49), y=alt.value(973))

chart = alt.layer(
    zero_h, zero_v, lines, wedges, boxes, box_text, logo_box, *logo_layers,
    title, underline, source, note_a, note_b, note_c,
).properties(
    width=W, height=H,
    autosize=alt.AutoSizeParams(type="none"),
    padding={"left": 29, "top": 65, "right": 240, "bottom": 140},
    background="white",
).configure_view(stroke="#cccccc", strokeWidth=1.5)

chart.save("out.html", embed_options={"renderer": "svg", "actions": False})
